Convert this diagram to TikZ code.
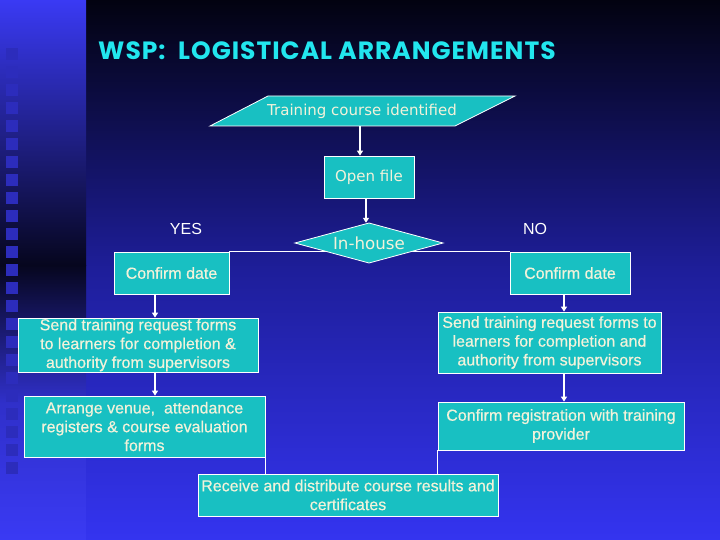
\documentclass[tikz,border=0pt]{standalone}
\usepackage{fontspec}
\setmainfont{Liberation Sans}
\newfontfamily\titlefont[LetterSpace=4]{Poppins}
\newfontfamily\verdfont{DejaVu Sans}
\newfontfamily\boxfont[FakeBold=0.5]{Liberation Sans}
\usetikzlibrary{shapes.geometric,arrows.meta}
\definecolor{boxcyan}{HTML}{18C0C2}
\definecolor{titlecyan}{HTML}{22E6EE}
\definecolor{boxtxt}{HTML}{F2F2DA}
\definecolor{bgtop}{HTML}{020210}
\definecolor{bgmid}{HTML}{1E1E9A}
\definecolor{bgbot}{HTML}{3434F0}
\definecolor{stripbright}{HTML}{3A3AF4}
\definecolor{stripdark}{HTML}{06061E}
\definecolor{sq}{HTML}{2C2CBC}
\tikzset{
  flowbox/.style={draw=white, line width=0.8pt, fill=boxcyan, text=boxtxt,
    align=center, inner sep=0pt, font=\boxfont\fontsize{16}{18.8}\selectfont},
  shapetext/.style={inner sep=0pt, text=boxtxt, font=\verdfont\fontsize{15}{18}\selectfont},
  shapefill/.style={draw=white, line width=0.8pt, fill=boxcyan},
  flowarrow/.style={draw=white, line width=1.3pt, -{Triangle[width=6pt,length=5pt]}},
  flowline/.style={draw=white, line width=1pt},
  branchlabel/.style={text=white, inner sep=0pt, font=\fontsize{16}{18}\selectfont}
}
\begin{document}
\begin{tikzpicture}[x=1pt,y=-1pt]
\useasboundingbox (0,0) rectangle (720,540);
% background
\shade[top color=bgtop, bottom color=bgbot, middle color=bgmid] (86,0) rectangle (720,540);
\shade[top color=stripbright, bottom color=stripdark] (0,0) rectangle (86,265);
\shade[top color=stripdark, bottom color=stripbright, middle color=stripbright!80!stripdark] (0,265) rectangle (86,540);
\foreach \i in {0,...,23} {
  \fill[sq] (6,48+18*\i) rectangle (18,60+18*\i);
}
% title
\node[anchor=base west, inner sep=0pt, text=titlecyan, font=\titlefont\bfseries\fontsize{25}{28}\selectfont] (title) at (98,60) {WSP:\ \ LOGISTICAL ARRANGEMENTS};
% start parallelogram
\draw[shapefill] (268,96) -- (515,96) -- (455,126) -- (210,126) -- cycle;
\node[shapetext, minimum height=30pt, minimum width=180pt] (start) at (362,111) {Training course identified};
% open file
\node[flowbox, minimum width=90pt, minimum height=42pt, font=\verdfont\fontsize{15}{18}\selectfont] (open) at (369,177) {Open file};
% confirm boxes and the line joining them (behind the diamond)
\node[flowbox, minimum width=115pt, minimum height=42pt] (cdL) at (171.5,273) {Confirm date};
\node[flowbox, minimum width=120pt, minimum height=42pt] (cdR) at (570,273) {Confirm date};
\draw[flowline] (cdL.north east) -- (cdR.north west);
% diamond
\draw[shapefill] (295,243) -- (369,223) -- (443,243) -- (369,263) -- cycle;
\node[shapetext, minimum height=40pt, minimum width=100pt, font=\verdfont\fontsize{16.7}{18}\selectfont] (dec) at (369,243) {In-house};
% labels
\node[branchlabel] (yes) at (186,229) {YES};
\node[branchlabel] (no) at (535,229) {NO};
% left branch
\node[flowbox, minimum width=240pt, minimum height=54pt] (sendL) at (138,345) {Send training request forms\\to learners for completion \&\\authority from supervisors};
\node[flowbox, minimum width=241pt, minimum height=61pt] (arrL) at (144.5,426.5) {Arrange venue,\ \ attendance\\registers \& course evaluation\\forms};
% right branch
\node[flowbox, minimum width=223pt, minimum height=61pt] (sendR) at (549.5,342.5) {Send training request forms to\\learners for completion and\\authority from supervisors};
\node[flowbox, minimum width=246pt, minimum height=48pt] (reg) at (561,426) {Confirm registration with training\\provider};
% end
\node[flowbox, minimum width=300pt, minimum height=42pt] (recv) at (348,495) {Receive and distribute course results and\\certificates};
% connectors
\draw[flowarrow] ([xshift=-2pt]start.south) -- ([xshift=-2pt]start.south |- open.north);
\draw[flowarrow] ([xshift=-3pt]open.south) -- ([xshift=-3pt]open.south |- dec.north);
\draw[flowarrow] ([xshift=-16.5pt]cdL.south) -- ([xshift=-16.5pt]cdL.south |- sendL.north);
\draw[flowarrow] ([xshift=17pt]sendL.south) -- ([xshift=17pt]sendL.south |- arrL.north);
\draw[flowarrow] ([xshift=-6pt]cdR.south) -- ([xshift=-6pt]cdR.south |- sendR.north);
\draw[flowarrow] ([xshift=14.5pt]sendR.south) -- ([xshift=14.5pt]sendR.south |- reg.north);
\draw[flowline] (arrL.south east) -- (arrL.south east |- recv.north);
\draw[flowline] (reg.south west) -- (reg.south west |- recv.north);
\end{tikzpicture}
\end{document}
